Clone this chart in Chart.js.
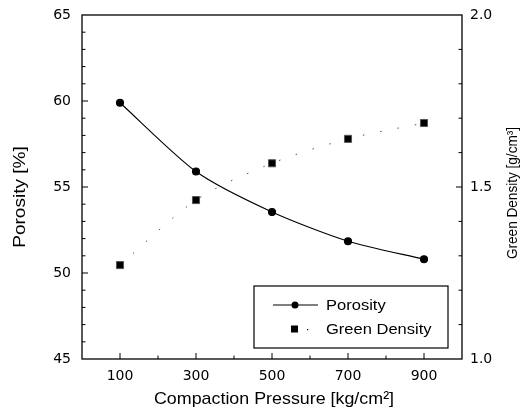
<!DOCTYPE html>
<html>
<head>
<meta charset="utf-8">
<script src="https://cdn.jsdelivr.net/npm/chart.js@4.4.1/dist/chart.umd.min.js"></script>
<style>
  html, body { margin: 0; padding: 0; background: #fff; }
  #wrap { width: 529px; height: 413px; }
</style>
</head>
<body>
<div id="wrap"><canvas id="chart" width="529" height="413"></canvas></div>
<script>
// compaction pressure, kg/cm^2
const pressure = [100, 300, 500, 700, 900];
// porosity, %
const porosity = [59.9, 55.9, 53.55, 51.85, 50.8];
// green density, g/cm^3
const greenDensity = [1.273, 1.462, 1.569, 1.640, 1.686];

const xMinorTicks = [200, 400, 600, 800];
const yMinorTicks = [46, 47, 48, 49, 51, 52, 53, 54, 56, 57, 58, 59, 61, 62, 63, 64];
const y2MinorTicks = [1.1, 1.2, 1.3, 1.4, 1.6, 1.7, 1.8, 1.9];

const FONT = "'Liberation Sans', Arial, sans-serif";
// the scan uses a wide sans for tick numbers
const TICK_FONT = "'DejaVu Sans', 'Liberation Sans', sans-serif";

// text stretched along its own direction, to mimic the wide scanned lettering
function wideText(ctx, text, x, y, angle, stretch) {
    ctx.save();
    ctx.translate(x, y);
    if (angle) ctx.rotate(angle);
    ctx.scale(stretch, 1);
    ctx.fillText(text, 0, 0);
    ctx.restore();
}

const frameAndTicks = {
    id: "frameAndTicks",
    afterDraw(chart) {
        const { ctx, chartArea: a, scales } = chart;
        ctx.save();
        ctx.strokeStyle = "#000";
        ctx.lineWidth = 1.3;
        ctx.strokeRect(a.left, a.top, a.right - a.left, a.bottom - a.top);

        const tick = (x1, y1, x2, y2) => {
            ctx.beginPath();
            ctx.moveTo(x1, y1);
            ctx.lineTo(x2, y2);
            ctx.stroke();
        };
        ctx.lineWidth = 1;
        pressure.forEach(v => {
            const x = scales.x.getPixelForValue(v);
            tick(x, a.bottom, x, a.bottom - 6);
        });
        xMinorTicks.forEach(v => {
            const x = scales.x.getPixelForValue(v);
            tick(x, a.bottom, x, a.bottom - 3.5);
        });
        [50, 55, 60].forEach(v => {
            const y = scales.y.getPixelForValue(v);
            tick(a.left, y, a.left + 6, y);
        });
        yMinorTicks.forEach(v => {
            const y = scales.y.getPixelForValue(v);
            tick(a.left, y, a.left + 3.5, y);
        });
        [1.5].forEach(v => {
            const y = scales.y2.getPixelForValue(v);
            tick(a.right, y, a.right - 6, y);
        });
        y2MinorTicks.forEach(v => {
            const y = scales.y2.getPixelForValue(v);
            tick(a.right, y, a.right - 3.5, y);
        });

        // axis titles
        ctx.fillStyle = "#000";
        ctx.textAlign = "center";
        ctx.textBaseline = "middle";
        ctx.font = "14px " + FONT;
        wideText(ctx, "Green Density [g/cm³]", 513, 193, -Math.PI / 2, 0.97);

        ctx.font = "17px " + FONT;
        wideText(ctx, "Compaction Pressure [kg/cm²]", 274, 399, 0, 1.05);
        wideText(ctx, "Porosity [%]", 20, 197, -Math.PI / 2, 1.12);

        // legend box in lower right
        const lx = 254, ly = 286, lw = 194, lh = 62;
        ctx.fillStyle = "#fff";
        ctx.fillRect(lx, ly, lw, lh);
        ctx.strokeStyle = "#000";
        ctx.lineWidth = 1.2;
        ctx.strokeRect(lx, ly, lw, lh);

        const row1 = ly + 19, row2 = ly + 43;
        ctx.lineWidth = 1;
        tick(lx + 19, row1, lx + 64, row1);
        ctx.fillStyle = "#000";
        ctx.beginPath();
        ctx.arc(lx + 41, row1, 3.5, 0, Math.PI * 2);
        ctx.fill();
        ctx.fillRect(lx + 37, row2 - 3.5, 7, 7);
        ctx.fillRect(lx + 53, row2, 1.2, 1.2);

        ctx.textAlign = "left";
        ctx.font = "14px " + FONT;
        wideText(ctx, "Porosity", lx + 72, row1 + 1, 0, 1.18);
        wideText(ctx, "Green Density", lx + 72, row2 + 1, 0, 1.18);
        ctx.restore();
    }
};

const toPoints = (xs, ys) => xs.map((x, i) => ({ x, y: ys[i] }));

const tickFont = { family: TICK_FONT, size: 14 };

// keep the plot frame at a fixed place: no extra label overhang padding
const noOverhang = scale => {
    scale.paddingTop = 0;
    scale.paddingBottom = 0;
    scale.paddingLeft = 0;
    scale.paddingRight = 0;
};

new Chart(document.getElementById("chart"), {
    type: "line",
    data: {
        datasets: [
            {
                label: "Porosity",
                data: toPoints(pressure, porosity),
                yAxisID: "y",
                borderColor: "#000",
                backgroundColor: "#000",
                borderWidth: 1.1,
                tension: 0.25,
                pointStyle: "circle",
                pointRadius: 3.5,
                pointHoverRadius: 3.5,
                fill: false
            },
            {
                label: "Green Density",
                data: toPoints(pressure, greenDensity),
                yAxisID: "y2",
                borderColor: "#555",
                backgroundColor: "#000",
                borderWidth: 1,
                borderDash: [1.5, 16],
                tension: 0.3,
                pointStyle: "rect",
                pointRadius: 5,
                pointHoverRadius: 5,
                fill: false
            }
        ]
    },
    options: {
        responsive: false,
        animation: false,
        devicePixelRatio: 1,
        layout: { padding: { top: 15, bottom: 0, left: 0, right: 0 } },
        plugins: {
            legend: { display: false },
            tooltip: { enabled: false }
        },
        scales: {
            x: {
                type: "linear",
                min: 0,
                max: 1000,
                afterBuildTicks: scale => {
                    scale.ticks = pressure.map(v => ({ value: v }));
                },
                afterFit: scale => { scale.height = 54; noOverhang(scale); },
                ticks: {
                    color: "#000",
                    font: tickFont,
                    padding: 9,
                    maxRotation: 0,
                    autoSkip: false
                },
                grid: { display: false, drawTicks: false },
                border: { display: false }
            },
            y: {
                position: "left",
                min: 45,
                max: 65,
                ticks: {
                    stepSize: 5,
                    color: "#000",
                    font: tickFont,
                    padding: 11
                },
                afterFit: scale => { scale.width = 82; noOverhang(scale); },
                grid: { display: false, drawTicks: false },
                border: { display: false }
            },
            y2: {
                position: "right",
                min: 1.0,
                max: 2.0,
                ticks: {
                    stepSize: 0.5,
                    color: "#000",
                    font: tickFont,
                    padding: 8,
                    callback: v => Number(v).toFixed(1)
                },
                afterFit: scale => { scale.width = 67; noOverhang(scale); },
                grid: { display: false, drawTicks: false },
                border: { display: false }
            }
        }
    },
    plugins: [frameAndTicks]
});
</script>
</body>
</html>
